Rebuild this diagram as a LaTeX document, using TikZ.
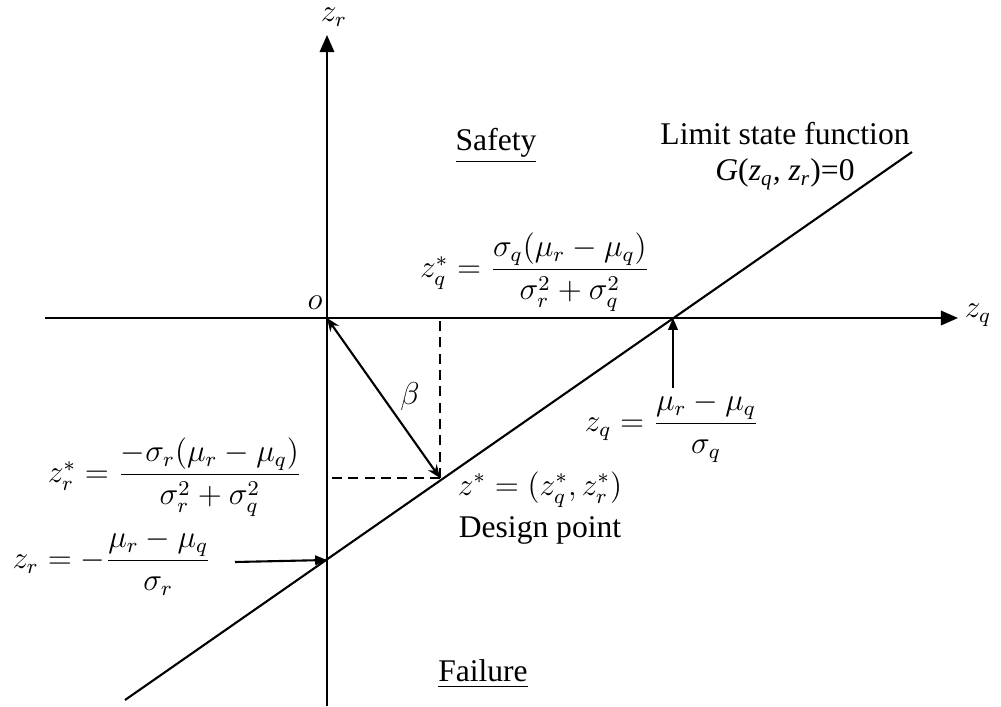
\documentclass[tikz,border=0pt]{standalone}
\usepackage{amsmath}
\usepackage{fontspec}
\setmainfont{Liberation Serif}
\usetikzlibrary{arrows.meta,calc}
\tikzset{
  axis/.style   ={-{Triangle[length=6.5pt,width=5.5pt]}, line width=0.8pt},
  limit/.style  ={line width=0.8pt},
  proj/.style   ={line width=0.8pt, dash pattern=on 3.8pt off 2.4pt},
  pointer/.style={-{Triangle[length=4.5pt,width=3.6pt]}, line width=0.8pt},
  dist/.style   ={{Stealth[length=5pt,width=4pt]}-{Stealth[length=5pt,width=4pt]},
                  line width=0.8pt},
  lbl/.style    ={inner sep=0pt, font=\fontsize{12}{14}\selectfont},
  region/.style ={lbl},
}

\begin{document}
\begin{tikzpicture}[x=0.38pt, y=-0.38pt]
\useasboundingbox (0,0) rectangle (1001,706);

% ------------------------------------------------------------- axes
\coordinate (O)    at (327,318);
\coordinate (qend) at (45,318);
\coordinate (qtip) at (958,318);
\coordinate (rend) at (327,706);
\coordinate (rtip) at (327,35);
\draw[axis] (qend) -- (qtip);
\draw[axis] (rend) -- (rtip);
\node[lbl] (zq) at (978,315) {$z_q$};
\node[lbl] (zr) at (334,17)  {$z_r$};
\node[lbl] (o)  at (315,303) {\large$o$};

% ------------------------------------------------------------- limit state
\coordinate (glow) at (125,700);
\coordinate (gup)  at (912,152);
\draw[limit] (glow) -- (gup);
\node[lbl, align=center] (lsf) at (785,156)
  {Limit state function\\\textit{G}(\textit{z\textsubscript{q}, z\textsubscript{r}})=0};

% ------------------------------------------------------------- design point
\coordinate (dp)   at (440,478);
\coordinate (qint) at (673,318);
\coordinate (rint) at (327,560);
\draw[proj] (dp) -- (dp |- O);
\draw[proj] (dp) -- (dp -| O);
\draw[dist] (O) -- (dp);
\node[lbl] (beta) at (410,397) {$\beta$};

\node[lbl, align=center] (dplbl) at (540,508)
  {$z^{*}=(z_q^{*},z_r^{*})$\\[2pt]Design point};

% ------------------------------------------------------------- intercepts
\coordinate (qfoot) at (673,388);
\coordinate (rfoot) at (235,562);
\draw[pointer] (qfoot) -- (qint);
\draw[pointer] (rfoot) -- (rint);

\node[lbl] (zqint) at (672,427)
  {$z_q=\dfrac{\mu_r-\mu_q}{\sigma_q}$};
\node[lbl] (zrint) at (112,562)
  {$z_r=-\dfrac{\mu_r-\mu_q}{\sigma_r}$};

\node[lbl] (zqstar) at (535,272)
  {$z_q^{*}=\dfrac{\sigma_q(\mu_r-\mu_q)}{\sigma_r^2+\sigma_q^2}$};
\node[lbl] (zrstar) at (175,477)
  {$z_r^{*}=\dfrac{-\sigma_r(\mu_r-\mu_q)}{\sigma_r^2+\sigma_q^2}$};

% ------------------------------------------------------------- regions
\node[region] (safe) at (496,146) {\underline{Safety}};
\node[region] (fail) at (483,674) {\underline{Failure}};

\end{tikzpicture}
\end{document}
